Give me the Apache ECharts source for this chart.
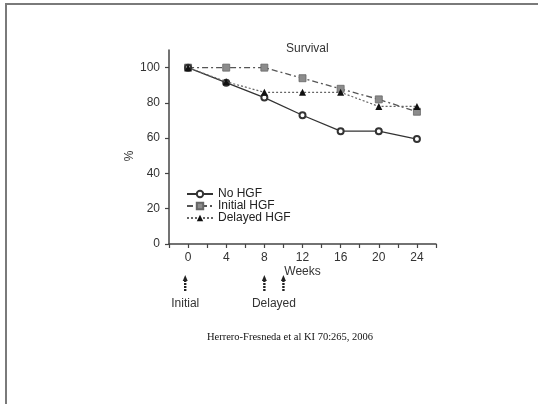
<!DOCTYPE html>
<html>
<head>
<meta charset="utf-8">
<script src="https://cdn.jsdelivr.net/npm/echarts@6/dist/echarts.min.js"></script>
<style>
  html, body { margin: 0; padding: 0; background: #fff; }
  #frame { position: absolute; left: 5px; top: 3px; width: 533px; height: 401px;
    border-top: 2px solid #7a7a7a; border-left: 2px solid #7a7a7a; box-sizing: border-box; }
  #main { position: absolute; left: 0; top: 0; width: 538px; height: 404px; }
</style>
</head>
<body>
<div id="frame"></div>
<div id="main"></div>
<script>
// weeks on the x axis
const weeks = [0, 4, 8, 12, 16, 20, 24]
// survival %
const noHgf = [100, 91.5, 83, 73, 64, 64, 59.5]
const initialHgf = [100, 100, 100, 94, 88, 82, 75]
const delayedHgf = [100, 92, 86, 86, 86, 78, 78]
const yTicks = [0, 20, 40, 60, 80, 100]
// treatment arrows below the x axis
const arrowWeeks = [-0.3, 8, 10]
const arrowLabels = [['Initial', -0.3], ['Delayed', 9]]

const pairs = (vals) => weeks.map((w, i) => [w, vals[i]])

const chart = echarts.init(document.getElementById('main'))
const font = 'Liberation Sans, Arial, sans-serif'

const option = {
  animation: false,
  textStyle: { fontFamily: font },
  title: {
    text: 'Survival', left: 281, top: 38,
    textStyle: { fontSize: 12, fontWeight: 'normal', color: '#333', fontFamily: font }
  },
  grid: { left: 169, right: 102, top: 50, bottom: 160 },
  legend: {
    orient: 'vertical', left: 181, top: 183, itemGap: 0,
    itemWidth: 26, itemHeight: 8,
    textStyle: { fontSize: 12, lineHeight: 11, color: '#222', fontFamily: font },
    data: ['No HGF', 'Initial HGF', 'Delayed HGF']
  },
  xAxis: {
    type: 'value', min: -2, max: 26, interval: 2,
    name: 'Weeks', nameLocation: 'middle', nameGap: 22,
    nameTextStyle: { fontSize: 12, color: '#333', fontFamily: font },
    splitLine: { show: false },
    axisLine: { onZero: false, lineStyle: { color: '#444', width: 1.5 } },
    axisTick: { length: 4, lineStyle: { color: '#444', width: 1.2 } },
    axisLabel: { customValues: weeks, fontSize: 12, color: '#333', margin: 8 }
  },
  yAxis: {
    type: 'value', min: 0, max: 110, interval: 10,
    splitLine: { show: false },
    axisLine: { show: true, onZero: false, lineStyle: { color: '#444', width: 1.5 } },
    axisTick: { show: true, customValues: yTicks, length: 4, lineStyle: { color: '#444', width: 1.2 } },
    axisLabel: { customValues: yTicks, fontSize: 12, color: '#333', margin: 9 }
  },
  series: [
    {
      name: 'No HGF', type: 'line', data: pairs(noHgf),
      symbol: 'emptyCircle', symbolSize: 6, z: 3,
      lineStyle: { color: '#333', width: 1.3 },
      itemStyle: { color: '#333', borderWidth: 0.9 }
    },
    {
      name: 'Initial HGF', type: 'line', data: pairs(initialHgf),
      symbol: 'rect', symbolSize: 7, z: 2,
      lineStyle: { color: '#555', width: 1.3, type: [6, 3, 2, 3] },
      itemStyle: { color: '#8c8c8c', borderColor: '#666', borderWidth: 0.8 }
    },
    {
      name: 'Delayed HGF', type: 'line', data: pairs(delayedHgf),
      symbol: 'triangle', symbolSize: 7, z: 4,
      lineStyle: { color: '#666', width: 1.2, type: [2, 2] },
      itemStyle: { color: '#111' }
    }
  ]
}
chart.setOption(option)

// arrows and labels placed through the x scale
const toX = (w) => chart.convertToPixel({ xAxisIndex: 0 }, w)
const graphics = []
arrowWeeks.forEach(w => {
  const x = toX(w)
  graphics.push({
    type: 'line', shape: { x1: x, y1: 280, x2: x, y2: 292 },
    style: { stroke: '#222', lineWidth: 2.4, lineDash: [2, 1] }
  })
  graphics.push({
    type: 'polygon', shape: { points: [[x, 275], [x - 2.5, 281], [x + 2.5, 281]] },
    style: { fill: '#222' }
  })
})
arrowLabels.forEach(([t, w]) => {
  graphics.push({
    type: 'text', x: toX(w), y: 304,
    style: { text: t, fontSize: 12, fill: '#333', fontFamily: font, align: 'center', verticalAlign: 'middle' }
  })
})
graphics.push({
  type: 'text', x: 130, y: 156, rotation: Math.PI / 2,
  style: { text: '%', fontSize: 12, fill: '#333', fontFamily: font, align: 'center', verticalAlign: 'middle' }
})
graphics.push({
  type: 'text', x: 290, y: 337,
  style: { text: 'Herrero-Fresneda et al KI 70:265, 2006', fontSize: 10.5, fill: '#111',
    fontFamily: 'Liberation Serif, Times New Roman, serif', align: 'center', verticalAlign: 'middle' }
})
chart.setOption({ graphic: graphics })
</script>
</body>
</html>
